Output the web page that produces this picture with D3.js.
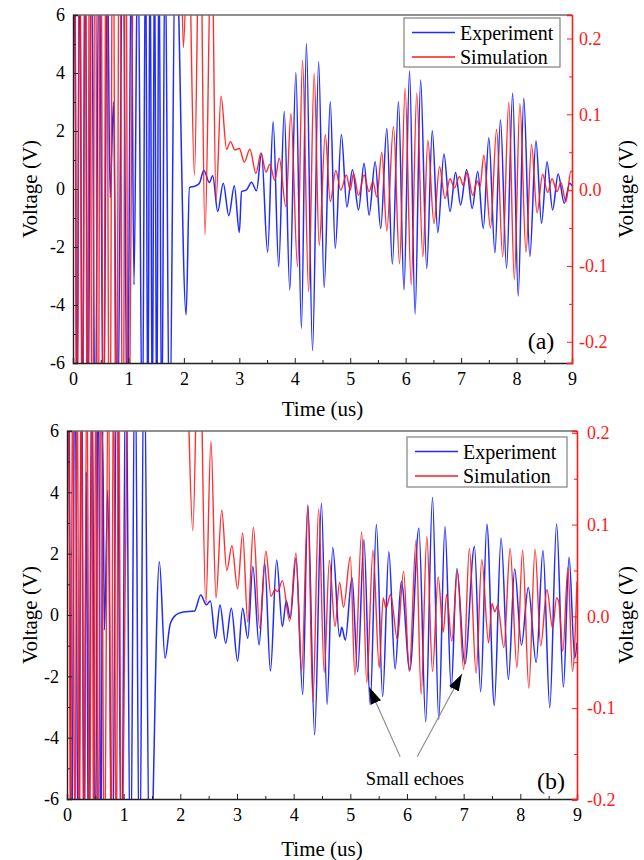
<!DOCTYPE html>
<html>
<head>
<meta charset="utf-8">
<script src="https://cdn.jsdelivr.net/npm/d3@7"></script>
<style>
  html, body { margin: 0; padding: 0; background: #fff; }
  svg { display: block; }
  text { font-family: "Liberation Serif", "Times New Roman", "DejaVu Serif", serif; }
</style>
</head>
<body>
<svg id="chart" width="644" height="860"></svg>
<script>
// ---------------- DATA (time in us, voltage) ----------------
const xTicks = [0,1,2,3,4,5,6,7,8,9];
const leftTicks = [-6,-4,-2,0,2,4,6];
const rightTicksA = [-0.2,-0.1,0.0,0.1,0.2];
const rightTicksB = [-0.2,-0.1,0.0,0.1,0.2];
const seriesNames = ["Experiment", "Simulation"];

// Panel (a) experiment (left axis, V)
const expA = [[0,0],[0.03,9],[0.07,-9],[0.12,9],[0.17,-9],[0.22,9],[0.27,-9],[0.33,9],[0.4,-9],[0.47,9],[0.55,-9],[0.62,8],[0.67,-0.3],[0.73,3.0],[0.8,-9],[0.9,9],[0.98,-9],[1.05,8],[1.1,-3.3],[1.17,9],[1.25,-9],[1.31,9],[1.35,-9],[1.39,9],[1.43,-9],[1.47,9],[1.51,-9],[1.55,9],[1.6,-9],[1.66,9],[1.74,-9],[1.85,9],[2.04,-4.34],[2.1,0.05],[2.2,0.1],[2.28,0.2],[2.36,0.65],[2.46,0.22],[2.52,0.46],[2.61,-0.78],[2.71,0.2],[2.81,-0.92],[2.91,0.11],[3.0,-1.5],[3.04,-0.09],[3.13,-0.03],[3.22,0.23],[3.31,-0.06],[3.40,1.23],[3.51,-2.18],[3.61,2.32],[3.71,-2.68],[3.81,2.67],[3.91,-3.48],[4.02,4.02],[4.12,-4.8],[4.21,5.02],[4.32,-5.57],[4.43,4.39],[4.53,-3.4],[4.64,3.01],[4.73,-2.05],[4.84,1.88],[4.94,-0.62],[5.04,0.66],[5.15,-0.72],[5.25,0.89],[5.34,-0.9],[5.45,0.94],[5.55,-1.36],[5.66,2.09],[5.76,-2.59],[5.87,3.01],[5.97,-3.48],[6.07,4.07],[6.17,-4.31],[6.27,3.76],[6.38,-2.74],[6.48,2.01],[6.58,-1.5],[6.69,1.21],[6.80,-0.78],[6.90,0.57],[6.99,-0.55],[7.10,0.66],[7.20,-0.67],[7.30,0.6],[7.40,-1.36],[7.50,1.77],[7.61,-2.2],[7.71,2.38],[7.82,-2.74],[7.93,3.3],[8.03,-3.69],[8.13,3.13],[8.24,-2.33],[8.35,1.66],[8.45,-1.18],[8.55,0.94],[8.65,-0.72],[8.75,0.52],[8.86,-0.49],[8.96,0.2],[9.0,0.1]];

// Panel (a) simulation (right axis, V)
const simA = [[0,0],[0.03,0.5],[0.07,-0.5],[0.12,0.5],[0.17,-0.5],[0.22,0.5],[0.26,-0.5],[0.30,0.5],[0.35,-0.5],[0.40,0.5],[0.45,-0.5],[0.50,0.5],[0.55,-0.5],[0.60,0.5],[0.66,-0.5],[0.72,0.5],[0.78,-0.5],[0.84,0.5],[0.90,-0.5],[0.95,0.5],[1.0,-0.5],[1.1,0.5],[1.5,0.6],[1.93,0.4],[1.99,0.188],[2.08,0.35],[2.19,0.02],[2.29,0.4],[2.38,-0.059],[2.5,0.35],[2.58,-0.013],[2.67,0.124],[2.77,0.054],[2.84,0.064],[2.92,0.053],[3.0,0.055],[3.09,0.037],[3.19,0.054],[3.30,0.022],[3.39,0.049],[3.48,0.024],[3.55,0.034],[3.64,0.013],[3.72,0.042],[3.84,-0.022],[3.93,0.101],[4.05,-0.101],[4.14,0.171],[4.25,-0.134],[4.35,0.154],[4.44,-0.073],[4.55,0.073],[4.64,-0.015],[4.74,0.026],[4.83,0.0],[4.93,0.02],[5.0,0.0],[5.06,0.022],[5.15,-0.007],[5.25,0.02],[5.34,-0.002],[5.41,0.011],[5.48,-0.009],[5.57,0.05],[5.66,-0.054],[5.78,0.084],[5.89,-0.097],[5.99,0.134],[6.10,-0.125],[6.20,0.128],[6.31,-0.088],[6.40,0.066],[6.51,-0.044],[6.61,0.031],[6.71,-0.011],[6.80,0.015],[6.88,0.003],[6.97,0.018],[7.04,0.006],[7.11,0.024],[7.21,-0.007],[7.29,0.012],[7.34,0.004],[7.41,0.046],[7.53,-0.05],[7.64,0.08],[7.75,-0.088],[7.86,0.116],[7.96,-0.118],[8.06,0.114],[8.17,-0.082],[8.27,0.06],[8.37,-0.03],[8.47,0.021],[8.56,-0.003],[8.64,0.015],[8.73,-0.002],[8.8,0.01],[8.89,-0.015],[8.98,0.025],[9.0,0.024]];

// Panel (b) experiment (left axis, V)
const expB = [[0,0],[0.03,9],[0.08,-9],[0.14,9],[0.2,-9],[0.26,9],[0.30,-9],[0.34,4.67],[0.38,-9],[0.44,9],[0.5,-9],[0.55,9],[0.6,-9],[0.63,6],[0.66,-0.49],[0.72,4.08],[0.8,-9],[0.88,9],[0.96,-9],[1.04,9],[1.12,-9],[1.2,9],[1.28,-9],[1.36,9],[1.46,-9],[1.63,1.74],[1.73,-1.41],[1.82,-0.3],[1.92,0.0],[2.05,0.1],[2.25,0.13],[2.36,0.65],[2.46,0.33],[2.53,0.46],[2.62,-0.76],[2.70,0.33],[2.80,-0.92],[2.90,0.22],[3.01,-1.5],[3.10,0.22],[3.19,-0.76],[3.28,1.58],[3.39,-0.98],[3.49,1.69],[3.59,-1.83],[3.70,1.79],[3.80,-0.38],[3.87,0.46],[3.94,-0.11],[4.04,1.85],[4.16,-2.59],[4.25,3.59],[4.37,-3.91],[4.49,3.64],[4.59,-2.91],[4.69,2.2],[4.81,-0.71],[4.85,-0.4],[4.91,-0.82],[5.03,1.22],[5.13,-1.85],[5.24,2.45],[5.35,-2.93],[5.46,2.95],[5.57,-2.66],[5.68,2.06],[5.79,-1.76],[5.90,1.09],[6.05,-1.8],[6.21,2.83],[6.33,-3.48],[6.45,3.83],[6.56,-3.4],[6.67,2.88],[6.78,-2.4],[6.88,1.52],[7.02,-1.6],[7.19,2.23],[7.30,-2.5],[7.41,2.96],[7.54,-2.95],[7.66,2.5],[7.79,-2.1],[7.90,1.5],[8.02,-0.98],[8.14,0.9],[8.28,-1.55],[8.40,2.1],[8.52,-3.02],[8.64,2.97],[8.76,-2.35],[8.86,1.88],[8.96,-1.41],[9.0,-0.9]];

// Panel (b) simulation (right axis, V)
const simB = [[0,0],[0.03,0.3],[0.06,-0.3],[0.1,0.3],[0.14,-0.3],[0.18,0.3],[0.22,-0.3],[0.25,0.3],[0.3,-0.3],[0.35,0.3],[0.4,-0.3],[0.44,0.3],[0.47,-0.3],[0.51,0.3],[0.55,-0.3],[0.6,0.3],[0.66,-0.3],[0.73,0.3],[0.78,-0.3],[0.82,0.3],[0.87,-0.3],[0.91,0.3],[0.96,-0.3],[1.03,0.05],[1.1,0.4],[1.6,0.5],[2.1,0.3],[2.22,0.0935],[2.33,0.35],[2.45,0.013],[2.54,0.191],[2.63,0.02],[2.73,0.116],[2.82,0.05],[2.91,0.077],[3.01,0.03],[3.10,0.091],[3.19,-0.006],[3.29,0.097],[3.40,-0.013],[3.51,0.071],[3.60,0.022],[3.67,0.029],[3.72,0.027],[3.80,0.039],[3.93,-0.005],[4.04,0.069],[4.14,-0.06],[4.25,0.12],[4.34,-0.093],[4.44,0.117],[4.54,-0.061],[4.63,0.061],[4.73,-0.011],[4.81,0.037],[4.88,0.01],[5.0,0.065],[5.08,-0.064],[5.20,0.092],[5.29,-0.072],[5.40,0.072],[5.51,-0.056],[5.58,0.02],[5.63,0.009],[5.71,0.024],[5.83,-0.025],[5.94,0.049],[6.04,-0.06],[6.16,0.083],[6.25,-0.085],[6.35,0.087],[6.45,-0.06],[6.55,0.043],[6.64,-0.017],[6.70,0.024],[6.79,-0.027],[6.89,0.049],[7.0,-0.058],[7.10,0.074],[7.22,-0.062],[7.32,0.062],[7.44,-0.029],[7.50,0.014],[7.55,0.005],[7.60,0.012],[7.71,-0.034],[7.82,0.074],[7.94,-0.056],[8.04,0.072],[8.15,-0.078],[8.26,0.073],[8.36,-0.032],[8.47,0.029],[8.57,-0.013],[8.64,0.02],[8.68,0.015],[8.75,-0.038],[8.84,0.053],[8.92,-0.06],[9.0,0.038]];

// Annotation "Small echoes" in panel (b): [t, V] of label, arrow tails and tips
const echoLabel = {t: 6.14, v: -5.35, text: "Small echoes"};
const echoArrows = [
  {from: [5.88, -4.62], to: [5.33, -2.35]},
  {from: [6.18, -4.62], to: [6.97, -1.92]}
];

// ---------------- LAYOUT ----------------
const BLUE = "#1f2bff", RED = "#ff1a1a";
const FONT = '"Liberation Serif", "Times New Roman", "DejaVu Serif", serif';

const panels = [
  {id: "a", tag: "(a)", exp: expA, sim: simA, rightTicks: rightTicksA,
   left: 73, right: 572, top: 15, bottom: 363, rDomain: [-0.228, 0.231],
   lPad: 8, rPad: 7, bPad: 9, titleY: 409, tagPos: [541, 341],
   legend: {x: 404, y: 18, w: 156, h: 49}},
  {id: "b", tag: "(b)", exp: expB, sim: simB, rightTicks: rightTicksB,
   left: 67, right: 577, top: 431, bottom: 799, rDomain: [-0.199, 0.202],
   lPad: 8, rPad: 10, bPad: 9, titleY: 849, tagPos: [551, 781],
   legend: {x: 407, y: 437, w: 160, h: 50}}
];

const svg = d3.select("#chart");
svg.append("rect").attr("width", 644).attr("height", 860).attr("fill", "#fff");

const defs = svg.append("defs");
defs.append("marker").attr("id", "arrowhead")
  .attr("markerUnits", "userSpaceOnUse")
  .attr("markerWidth", 17).attr("markerHeight", 11)
  .attr("refX", 17).attr("refY", 5.5).attr("orient", "auto")
  .append("path").attr("d", "M0,0 L17,5.5 L0,11 Z").attr("fill", "#000");

panels.forEach(p => {
  const x = d3.scaleLinear().domain([0, 9]).range([p.left, p.right]);
  const yL = d3.scaleLinear().domain([-6, 6]).range([p.bottom, p.top]);
  const yR = d3.scaleLinear().domain(p.rDomain).range([p.bottom, p.top]);
  const g = svg.append("g");

  defs.append("clipPath").attr("id", "clip-" + p.id)
    .append("rect").attr("x", p.left).attr("y", p.top)
    .attr("width", p.right - p.left).attr("height", p.bottom - p.top);

  // series
  const lineL = d3.line().x(d => x(d[0])).y(d => yL(d[1])).curve(d3.curveMonotoneX);
  const lineR = d3.line().x(d => x(d[0])).y(d => yR(d[1])).curve(d3.curveMonotoneX);
  const plot = g.append("g").attr("clip-path", `url(#clip-${p.id})`);
  plot.append("path").datum(p.exp).attr("d", lineL)
    .attr("fill", "none").attr("stroke", BLUE).attr("stroke-width", 1.5);
  plot.append("path").datum(p.sim).attr("d", lineR)
    .attr("fill", "none").attr("stroke", RED).attr("stroke-width", 1.4)
    .attr("stroke-opacity", 0.9);

  // top frame
  g.append("line").attr("x1", p.left).attr("x2", p.right).attr("y1", p.top).attr("y2", p.top)
    .attr("stroke", "#6b6b6b").attr("stroke-width", 1.6);

  // left axis
  const la = g.append("g").attr("transform", `translate(${p.left},0)`)
    .call(d3.axisLeft(yL).tickValues(leftTicks).tickSize(-5).tickPadding(p.lPad).tickFormat(d => String(d)));
  la.append("g").call(d3.axisLeft(yL).tickValues(d3.range(-5, 6, 2)).tickSize(-3).tickFormat(""))
    .select(".domain").remove();
  // bottom axis
  const ba = g.append("g").attr("transform", `translate(0,${p.bottom})`)
    .call(d3.axisBottom(x).tickValues(xTicks).tickSize(-5).tickPadding(p.bPad).tickFormat(d => String(d)));
  ba.append("g").call(d3.axisBottom(x).tickValues(d3.range(0.5, 9, 1)).tickSize(-3).tickFormat(""))
    .select(".domain").remove();
  // right axis
  const ra = g.append("g").attr("transform", `translate(${p.right},0)`)
    .call(d3.axisRight(yR).tickValues(p.rightTicks).tickSize(-5).tickPadding(p.rPad).tickFormat(d => d.toFixed(1)));
  ra.append("g").call(d3.axisRight(yR).tickValues([-0.15, -0.05, 0.05, 0.15]).tickSize(-3).tickFormat(""))
    .select(".domain").remove();

  [la, ba].forEach(a => {
    a.selectAll(".domain").attr("stroke", "#222").attr("stroke-width", 1.4);
    a.selectAll("line").attr("stroke", "#222");
    a.selectAll("text").attr("font-family", FONT).attr("font-size", 18).attr("fill", "#000");
  });
  ra.selectAll(".domain").attr("stroke", RED).attr("stroke-width", 1.6);
  ra.selectAll("line").attr("stroke", RED);
  ra.selectAll("text").attr("font-family", FONT).attr("font-size", 18).attr("fill", RED);

  // axis titles
  const midY = (p.top + p.bottom) / 2;
  g.append("text").attr("transform", `translate(30,${midY}) rotate(-90)`)
    .attr("text-anchor", "middle").attr("dominant-baseline", "central")
    .attr("font-family", FONT).attr("font-size", 21).text("Voltage (V)");
  g.append("text").attr("transform", `translate(626,${midY}) rotate(-90)`)
    .attr("text-anchor", "middle").attr("dominant-baseline", "central")
    .attr("font-family", FONT).attr("font-size", 21).text("Voltage (V)");
  g.append("text").attr("x", (p.left + p.right) / 2).attr("y", p.titleY)
    .attr("text-anchor", "middle").attr("dominant-baseline", "central")
    .attr("font-family", FONT).attr("font-size", 21).text("Time (us)");

  // panel tag
  g.append("text").attr("x", p.tagPos[0]).attr("y", p.tagPos[1])
    .attr("text-anchor", "middle").attr("dominant-baseline", "central")
    .attr("font-family", FONT).attr("font-size", 24).text(p.tag);

  // legend
  const L = p.legend;
  const lg = g.append("g");
  lg.append("rect").attr("x", L.x).attr("y", L.y).attr("width", L.w).attr("height", L.h)
    .attr("fill", "#fff").attr("stroke", "#8a8a8a").attr("stroke-width", 1.3);
  [BLUE, RED].forEach((c, i) => {
    const ly = L.y + 14.5 + i * 24.5;
    lg.append("line").attr("x1", L.x + 8).attr("x2", L.x + 51).attr("y1", ly).attr("y2", ly)
      .attr("stroke", c).attr("stroke-width", 1.4);
    lg.append("text").attr("x", L.x + 56).attr("y", ly).attr("dominant-baseline", "central")
      .attr("font-family", FONT).attr("font-size", 20).text(seriesNames[i]);
  });

  // annotation on (b)
  if (p.id === "b") {
    echoArrows.forEach(a => {
      g.append("line")
        .attr("x1", x(a.from[0])).attr("y1", yL(a.from[1]))
        .attr("x2", x(a.to[0])).attr("y2", yL(a.to[1]))
        .attr("stroke", "#8c8c8c").attr("stroke-width", 1.1)
        .attr("marker-end", "url(#arrowhead)");
    });
    g.append("text").attr("x", x(echoLabel.t)).attr("y", yL(echoLabel.v))
      .attr("text-anchor", "middle").attr("dominant-baseline", "central")
      .attr("font-family", FONT).attr("font-size", 18.5).text(echoLabel.text);
  }
});
</script>
</body>
</html>
